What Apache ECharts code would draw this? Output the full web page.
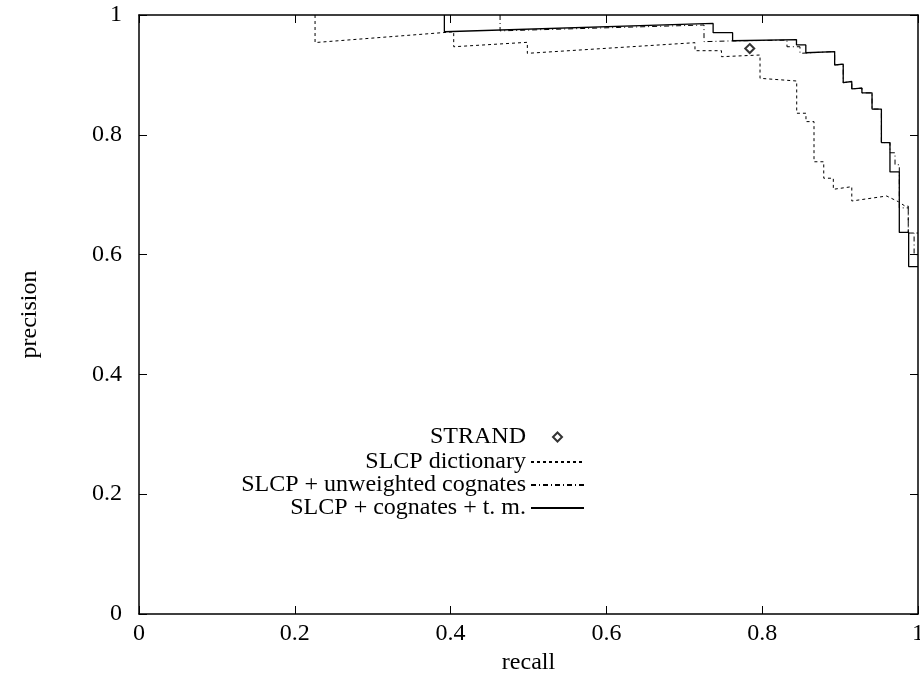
<!DOCTYPE html>
<html>
<head>
<meta charset="utf-8">
<script src="https://cdn.jsdelivr.net/npm/echarts@6/dist/echarts.min.js"></script>
<style>html,body{margin:0;padding:0;background:#fff;}#chart{width:920px;height:673px;}</style>
</head>
<body>
<div id="chart"></div>
<script>
// Axis ticks
const xTicks = [0, 0.2, 0.4, 0.6, 0.8, 1];
const yTicks = [0, 0.2, 0.4, 0.6, 0.8, 1];

// STRAND single point
const strandRecall = [0.784];
const strandPrecision = [0.944];

// SLCP dictionary (dotted)
const dictRecall = [0.226,0.226,0.404,0.404,0.4985,0.4985,0.7137,0.7137,0.7477,0.7477,0.7972,0.7972,0.8443,0.8443,0.8562,0.8562,0.8665,0.8665,0.879,0.879,0.8913,0.8913,0.915,0.915,0.9598,0.9748,0.9833,0.9875,0.9875,1.0];
const dictPrecision = [1.0,0.954,0.972,0.947,0.9544,0.936,0.9538,0.9404,0.9404,0.9304,0.9332,0.8943,0.8898,0.836,0.836,0.822,0.822,0.755,0.755,0.7275,0.7275,0.709,0.7134,0.6895,0.6978,0.6883,0.681,0.681,0.636,0.636];

// SLCP + unweighted cognates (dash-dot)
const unwRecall = [0.4635,0.4635,0.7253,0.7253,0.7561,0.8318,0.8318,0.8485,0.8485,0.893,0.893,0.904,0.904,0.915,0.915,0.928,0.928,0.941,0.941,0.953,0.953,0.964,0.964,0.9705,0.9705,0.976,0.976,0.9875,0.9875,0.995,0.995,1.0];
const unwPrecision = [1.0,0.9735,0.9833,0.9555,0.9566,0.958,0.947,0.947,0.936,0.939,0.9165,0.918,0.887,0.889,0.8765,0.878,0.870,0.870,0.843,0.843,0.787,0.787,0.770,0.770,0.750,0.750,0.678,0.678,0.636,0.636,0.600,0.600];

// SLCP + cognates + t. m. (solid)
const tmRecall = [0.392,0.392,0.737,0.737,0.762,0.762,0.844,0.844,0.856,0.856,0.893,0.893,0.904,0.904,0.915,0.915,0.928,0.928,0.941,0.941,0.953,0.953,0.964,0.964,0.976,0.976,0.988,0.988,1.0];
const tmPrecision = [1.0,0.972,0.986,0.9705,0.9705,0.957,0.959,0.950,0.950,0.937,0.939,0.9165,0.918,0.887,0.889,0.8765,0.878,0.870,0.870,0.843,0.843,0.787,0.787,0.738,0.738,0.637,0.637,0.580,0.580];

const names = ['STRAND', 'SLCP dictionary', 'SLCP + unweighted cognates', 'SLCP + cognates + t. m.'];

function pairs(xs, ys) { return xs.map((x, i) => [x, ys[i]]); }

const FONT = 'Liberation Serif';
const txt = { fontFamily: FONT, fontSize: 24, color: '#000' };

const chart = echarts.init(document.getElementById('chart'), null, { renderer: 'canvas' });

function axisCommon(showLabel) {
  return {
    type: 'value', min: 0, max: 1, interval: 0.2,
    axisLine: { show: true, onZero: false, lineStyle: { color: '#000', width: 1.5 } },
    axisTick: { show: true, inside: true, length: 8, lineStyle: { color: '#000', width: 1 } },
    splitLine: { show: false },
    axisLabel: Object.assign({ show: showLabel }, txt)
  };
}

const legendRows = [437, 462, 485, 508];
const legends = names.map((n, i) => {
  if (i === 0) {
    return {
      data: [{ name: n, icon: 'emptyDiamond' }],
      orient: 'vertical', right: 357, top: legendRows[i] - 12, padding: 0, align: 'right',
      itemWidth: 9, itemHeight: 9, selectedMode: false,
      itemStyle: { color: '#000', borderColor: '#000', borderWidth: 1 },
      textStyle: Object.assign({ padding: [0, 22, 0, 0] }, txt)
    };
  }
  return {
    data: [n],
    orient: 'vertical', right: 335, top: legendRows[i] - 12, padding: 0, align: 'right',
    itemWidth: 53, itemHeight: 14, selectedMode: false,
    itemStyle: { opacity: 0 },
    textStyle: txt
  };
});

chart.setOption({
  animation: false,
  backgroundColor: '#fff',
  grid: { left: 139, right: 2, top: 15, bottom: 59, containLabel: false, outerBoundsMode: 'none' },
  legend: legends,
  xAxis: [
    Object.assign(axisCommon(true), { position: 'bottom', name: 'recall', nameLocation: 'middle', nameGap: 30, nameTextStyle: txt,
      axisLabel: Object.assign({ show: true, margin: 8 }, txt) }),
    Object.assign(axisCommon(false), { position: 'top' })
  ],
  yAxis: [
    Object.assign(axisCommon(true), { position: 'left', name: 'precision', nameLocation: 'middle', nameGap: 97, nameRotate: 90, nameTextStyle: txt,
      axisLabel: Object.assign({ show: true, margin: 17 }, txt) }),
    Object.assign(axisCommon(false), { position: 'right' })
  ],
  series: [
    { name: names[2], type: 'line', xAxisIndex: 0, yAxisIndex: 0, symbol: 'none', data: pairs(unwRecall, unwPrecision),
      lineStyle: { color: '#000', width: 1, type: [5, 3, 1, 3] }, itemStyle: { color: '#000' } },
    { name: names[1], type: 'line', xAxisIndex: 0, yAxisIndex: 0, symbol: 'none', data: pairs(dictRecall, dictPrecision),
      lineStyle: { color: '#000', width: 1, type: [3, 3] }, itemStyle: { color: '#000' } },
    { name: names[3], type: 'line', xAxisIndex: 0, yAxisIndex: 0, symbol: 'none', data: pairs(tmRecall, tmPrecision),
      lineStyle: { color: '#000', width: 1.3, type: 'solid' }, itemStyle: { color: '#000' } },
    { name: names[0], type: 'scatter', xAxisIndex: 0, yAxisIndex: 0, symbol: 'emptyDiamond', symbolSize: 9,
      data: pairs(strandRecall, strandPrecision), itemStyle: { color: '#000', borderColor: '#000', borderWidth: 1 } }
  ]
});
</script>
</body>
</html>
